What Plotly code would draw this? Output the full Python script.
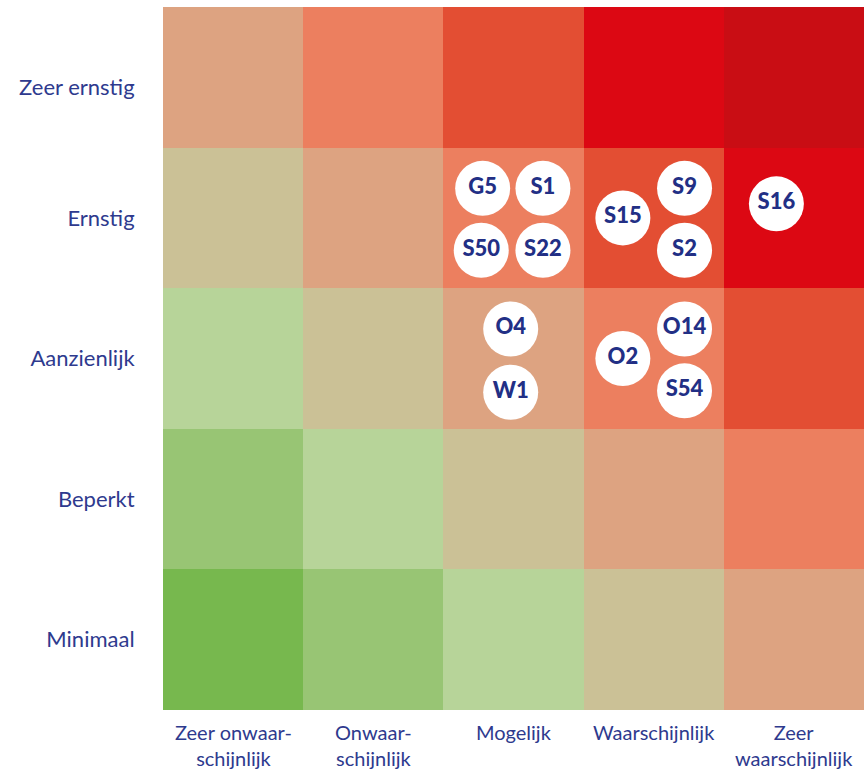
import plotly.graph_objects as go

# ---- data ----
likelihood_labels = ["Zeer onwaar-<br>schijnlijk", "Onwaar-<br>schijnlijk", "Mogelijk",
                     "Waarschijnlijk", "Zeer<br>waarschijnlijk"]
likelihood_keys = ["Zeer onwaarschijnlijk", "Onwaarschijnlijk", "Mogelijk",
                   "Waarschijnlijk", "Zeer waarschijnlijk"]
impact_labels = ["Minimaal", "Beperkt", "Aanzienlijk", "Ernstig", "Zeer ernstig"]

# risk level per cell (rows: impact from Minimaal up, cols: likelihood)
risk_level = [
    [0, 1, 2, 3, 4],
    [1, 2, 3, 4, 5],
    [2, 3, 4, 5, 6],
    [3, 4, 5, 6, 7],
    [4, 5, 6, 7, 8],
]

risk_codes = ["G5", "S1", "S50", "S22", "S15", "S9", "S2", "S16", "O4", "W1", "O2", "O14", "S54"]
risk_likelihood = ["Mogelijk"] * 4 + ["Waarschijnlijk"] * 3 + ["Zeer waarschijnlijk"] \
    + ["Mogelijk"] * 2 + ["Waarschijnlijk"] * 3
risk_impact = ["Ernstig"] * 8 + ["Aanzienlijk"] * 5

# ---- styling ----
level_colors = ["#77B84E", "#98C574", "#B7D499", "#CBC196", "#DDA381",
                "#EC7F5F", "#E34E33", "#DC0813", "#C90D14"]
n = len(level_colors)
colorscale = []
for i, c in enumerate(level_colors):
    colorscale.append([i / n, c])
    colorscale.append([(i + 1) / n, c])

# bubble arrangement inside a cell (axis-unit offsets) by number of bubbles
arrangements = {
    1: [(-0.125, 0.10)],
    2: [(-0.02, 0.21), (-0.02, -0.24)],
    3: [(-0.22, 0.0), (0.22, 0.21), (0.22, -0.23)],
    4: [(-0.22, 0.21), (0.21, 0.21), (-0.23, -0.23), (0.21, -0.23)],
}

label_color = "#2E3A8E"
bubble_text_color = "#222F85"
FONT = "Lato"

# ---- compute bubble positions ----
cells = {}
for code, lk, im in zip(risk_codes, risk_likelihood, risk_impact):
    cells.setdefault((lk, im), []).append(code)

bx, by, bt = [], [], []
for (lk, im), codes in cells.items():
    cx = likelihood_keys.index(lk)
    cy = impact_labels.index(im)
    offs = arrangements[len(codes)]
    for code, (dx, dy) in zip(codes, offs):
        bx.append(cx + dx)
        by.append(cy + dy)
        bt.append(code)

fig = go.Figure()
fig.add_trace(go.Heatmap(
    z=risk_level,
    x=list(range(5)),
    y=list(range(5)),
    colorscale=colorscale,
    zmin=-0.5, zmax=n - 0.5,
    showscale=False,
    hoverinfo="skip",
))
fig.add_trace(go.Scatter(
    x=bx, y=by, text=bt,
    mode="markers+text",
    marker=dict(size=55, color="white", line=dict(width=0)),
    textposition="middle center",
    textfont=dict(family=FONT, size=22, color=bubble_text_color, weight=900),
    hoverinfo="text",
    showlegend=False,
))

# x-axis category labels
for i, lab in enumerate(likelihood_labels):
    fig.add_annotation(
        x=i, xref="x", y=0, yref="paper",
        text=lab, showarrow=False,
        xanchor="center", yanchor="top",
        yshift=-8,
        font=dict(family=FONT, size=20, color=label_color),
    )

fig.update_layout(
    width=864, height=772,
    margin=dict(l=163, r=0, t=7, b=62),
    paper_bgcolor="white",
    plot_bgcolor="white",
    font=dict(family=FONT, size=20, color=label_color),
    showlegend=False,
)
fig.update_xaxes(
    range=[-0.5, 4.5],
    showticklabels=False,
    showgrid=False, zeroline=False, showline=False,
    fixedrange=True,
)
fig.update_yaxes(
    range=[-0.5, 4.5],
    tickvals=[0, 1, 2, 3, 3.93], ticktext=impact_labels,
    showgrid=False, zeroline=False, showline=False,
    ticks="outside", ticklen=23, tickcolor="rgba(0,0,0,0)",
    tickfont=dict(family=FONT, size=22, color=label_color),
    fixedrange=True,
)

fig.write_html(
    "out.html",
    config={"displayModeBar": False},
    post_script="document.body.style.margin='0';document.body.style.overflow='hidden';",
)
